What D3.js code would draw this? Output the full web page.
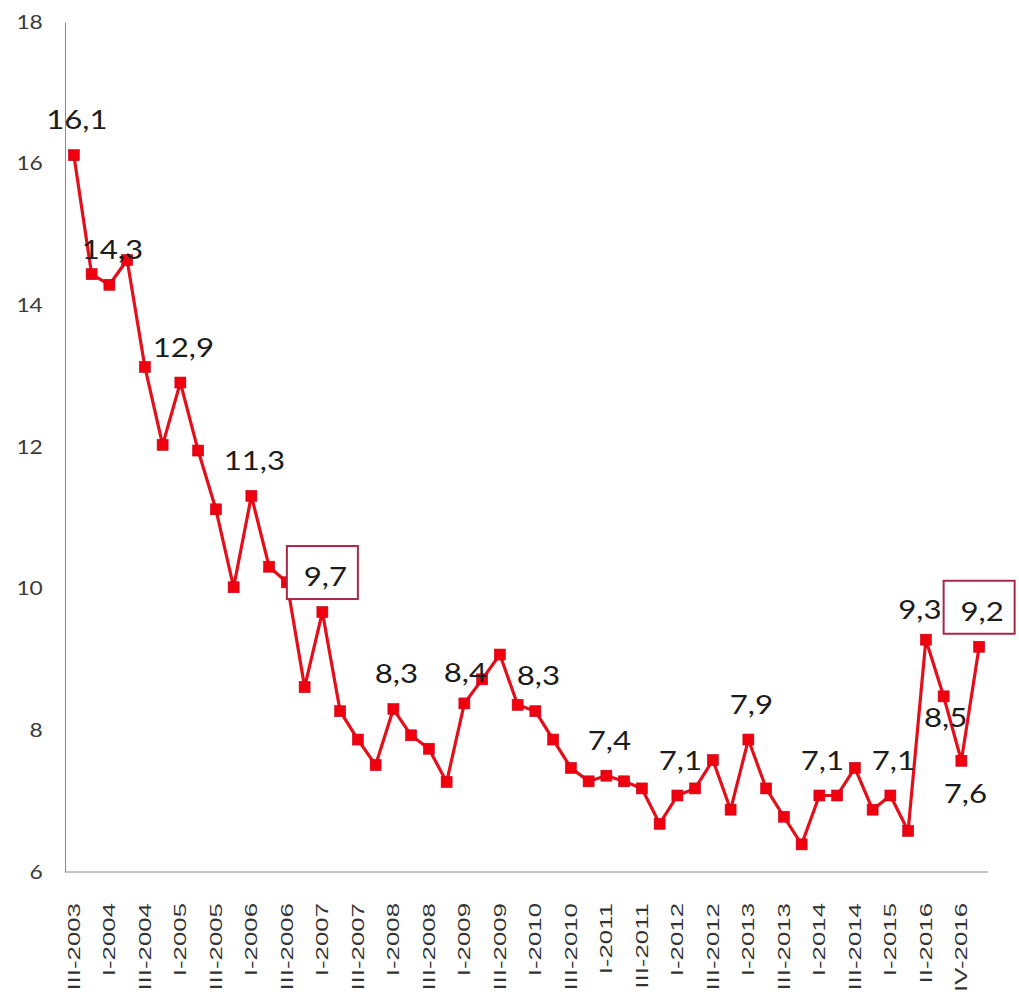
<!DOCTYPE html>
<html>
<head>
<meta charset="utf-8">
<script src="https://cdn.jsdelivr.net/npm/d3@7"></script>
<style>
  html, body { margin: 0; padding: 0; background: #ffffff; }
  svg { display: block; }
</style>
</head>
<body>
<svg id="chart" width="1019" height="1002"></svg>
<script>
// ---- data ----
const categories = [
  "III-2003","IV-2003",
  "I-2004","II-2004","III-2004","IV-2004",
  "I-2005","II-2005","III-2005","IV-2005",
  "I-2006","II-2006","III-2006","IV-2006",
  "I-2007","II-2007","III-2007","IV-2007",
  "I-2008","II-2008","III-2008","IV-2008",
  "I-2009","II-2009","III-2009","IV-2009",
  "I-2010","II-2010","III-2010","IV-2010",
  "I-2011","II-2011","III-2011","IV-2011",
  "I-2012","II-2012","III-2012","IV-2012",
  "I-2013","II-2013","III-2013","IV-2013",
  "I-2014","II-2014","III-2014","IV-2014",
  "I-2015","I-2016","II-2016","III-2016","IV-2016","I-2017"
];
const values = [
  16.12, 14.44,
  14.29, 14.64, 13.13, 12.03,
  12.91, 11.95, 11.12, 10.02,
  11.31, 10.31, 10.09, 8.61,
  9.67, 8.27, 7.87, 7.51,
  8.30, 7.93, 7.74, 7.27,
  8.38, 8.72, 9.07, 8.36,
  8.27, 7.87, 7.47, 7.28,
  7.36, 7.28, 7.18, 6.68,
  7.08, 7.18, 7.58, 6.88,
  7.87, 7.18, 6.78, 6.39,
  7.08, 7.08, 7.47, 6.88,
  7.08, 6.58, 9.28, 8.48, 7.57, 9.18
];
const yTicks = [6, 8, 10, 12, 14, 16, 18];
// categories whose value is printed on the chart
const labelledCategories = [
  "III-2003","I-2004","I-2005","I-2006","I-2007","I-2008","I-2009","I-2010",
  "I-2011","I-2012","I-2013","I-2014","I-2015","II-2016","III-2016","IV-2016","I-2017"
];
const boxedCategories = ["I-2007", "I-2017"];

// ---- layout ----
const svg = d3.select("#chart");
const x = d3.scalePoint().domain(categories).range([65, 988]).padding(0.5);
const y = d3.scaleLinear().domain([6, 18]).range([872, 22]);
const axisLeftX = 65;
const fmt = v => d3.format(".1f")(v).replace(".", ",");

// y axis
const gy = svg.append("g").attr("transform", `translate(${axisLeftX},0)`)
  .call(d3.axisLeft(y).tickValues(yTicks).tickSize(0).tickPadding(0).tickFormat(d3.format("d")));
gy.select(".domain").attr("stroke", "#8a8a8a").attr("stroke-width", 1);
gy.selectAll(".tick text")
  .attr("x", -18.5)
  .attr("transform", "scale(1.2,1)")
  .attr("fill", "#3a3a3a")
  .style("font-family", "Lato, 'Open Sans', sans-serif")
  .style("font-size", "19px");

// x axis line
svg.append("line")
  .attr("x1", x.range()[0]).attr("x2", x.range()[1])
  .attr("y1", y(6)).attr("y2", y(6))
  .attr("stroke", "#8a8a8a").attr("stroke-width", 1);

// x tick labels (every other category)
const xLabels = categories.filter((d, i) => i % 2 === 0);
svg.append("g").selectAll("text").data(xLabels).join("text")
  .attr("transform", d => `translate(${x(d)},903) scale(1,1.52) rotate(-90)`)
  .attr("text-anchor", "end")
  .attr("dy", "0.36em")
  .attr("fill", "#333")
  .style("font-family", "'Liberation Sans', Arial, sans-serif")
  .style("font-size", "17px")
  .text(d => d);

// line
const data = categories.map((c, i) => ({ c, v: values[i] }));
svg.append("path").datum(data)
  .attr("fill", "none")
  .attr("stroke", "#e3101b")
  .attr("stroke-width", 3.2)
  .attr("stroke-linejoin", "round")
  .attr("d", d3.line().x(d => x(d.c)).y(d => y(d.v)));

// markers
const ms = 11;
svg.append("g").selectAll("rect").data(data).join("rect")
  .attr("x", d => x(d.c) - ms / 2)
  .attr("y", d => y(d.v) - ms / 2)
  .attr("width", ms).attr("height", ms)
  .attr("fill", "#f0000f")
  .attr("stroke", "#c8001a").attr("stroke-width", 0.6);

// data labels
const labelData = data.filter(d => labelledCategories.includes(d.c));
const lblOffset = d => {
  if (d.c === "III-2016") return [2, 31];
  if (d.c === "IV-2016") return [4, 42];
  if (d.c === "II-2016") return [-6, -21];
  if (d.c === "I-2009") return [1, -21];
  return [3, -26];
};
// boxes
svg.append("g").selectAll("rect").data(labelData.filter(d => boxedCategories.includes(d.c))).join("rect")
  .attr("x", d => x(d.c) - 35.5)
  .attr("y", d => y(d.v) + lblOffset(d)[1] - 40)
  .attr("width", 71).attr("height", 53)
  .attr("fill", "#fff")
  .attr("stroke", "#a8284a").attr("stroke-width", 2);
svg.append("g").selectAll("text").data(labelData).join("text")
  .attr("transform", d => `translate(${x(d.c) + lblOffset(d)[0]},${y(d.v) + lblOffset(d)[1]}) scale(1.2,1)`)
  .attr("text-anchor", "middle")
  .attr("fill", "#1c1c1c")
  .style("font-family", "Lato, 'Open Sans', sans-serif")
  .style("font-size", "26px")
  .text(d => fmt(d.v));
</script>
</body>
</html>
